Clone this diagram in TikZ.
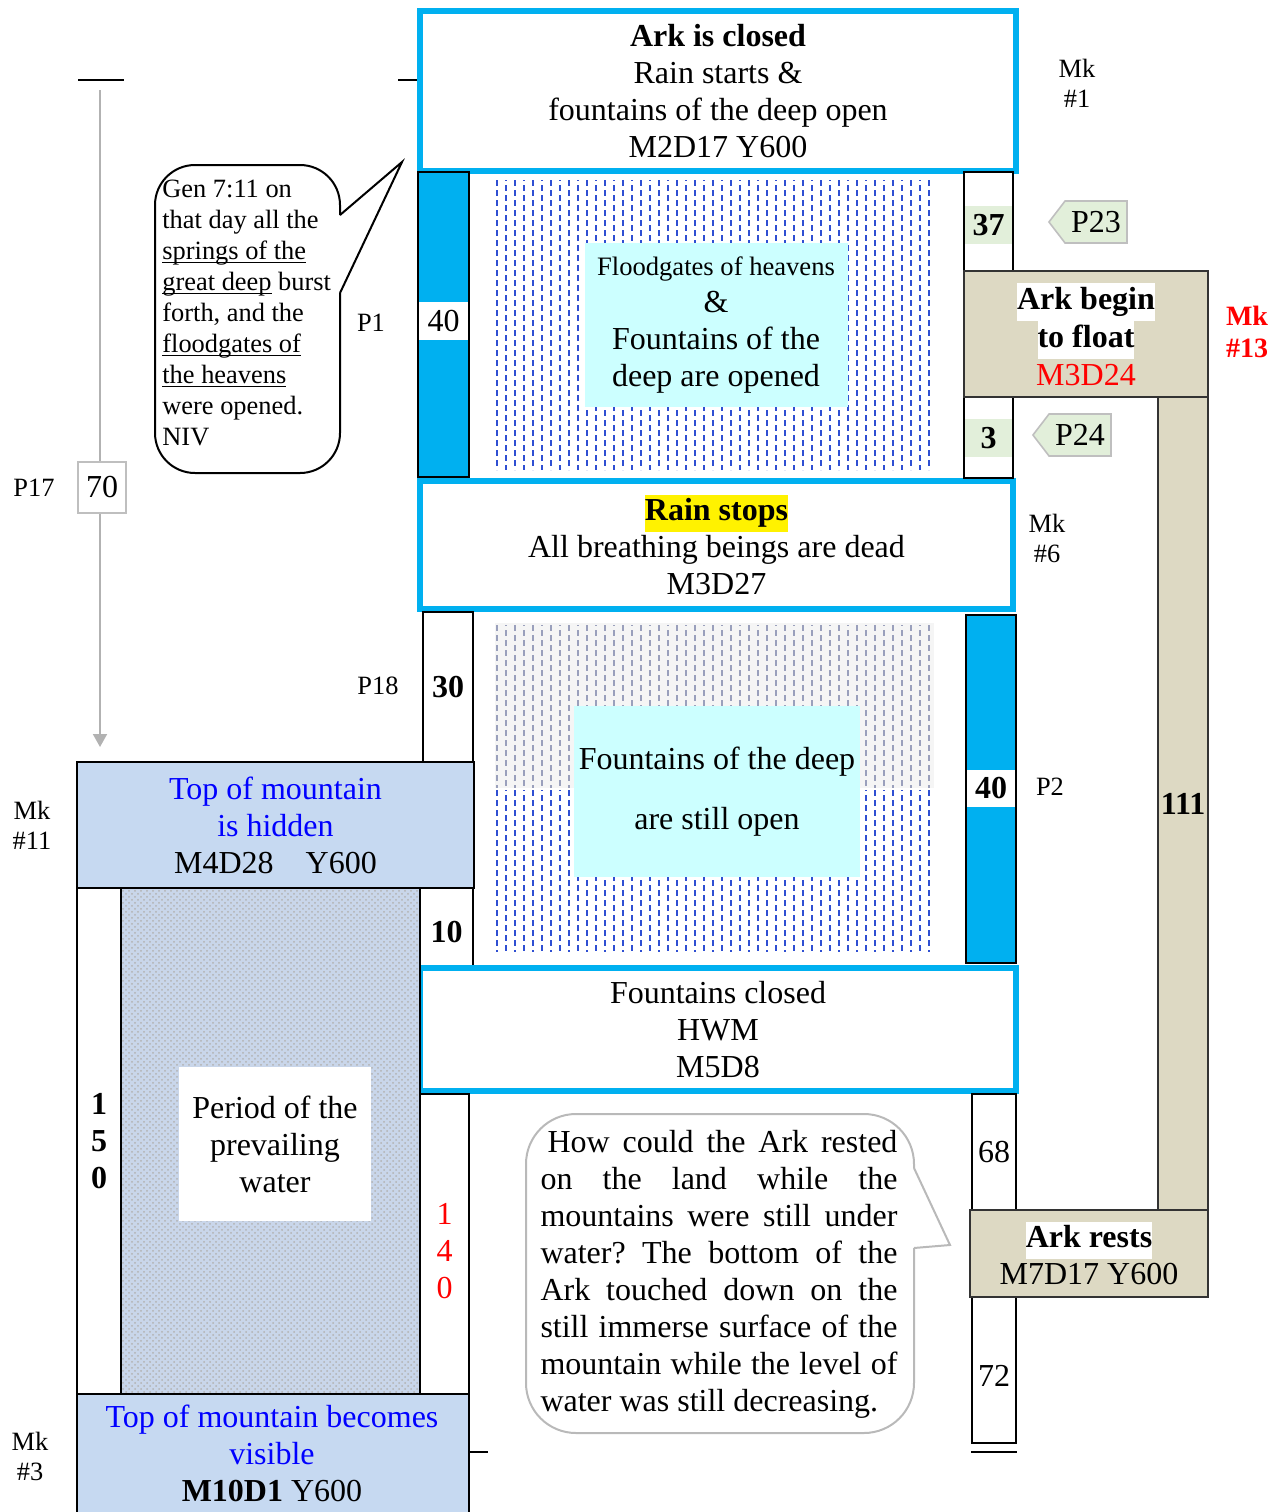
\documentclass[tikz,border=0pt]{standalone}
\usepackage{fontspec}
\setmainfont{Liberation Serif}
\usetikzlibrary{arrows.meta,positioning,patterns,shapes.symbols}
\definecolor{arkcyan}{HTML}{00B0F0}
\definecolor{paleaqua}{HTML}{CCFFFF}
\definecolor{tanbg}{HTML}{DDD9C3}
\definecolor{mtblue}{HTML}{C6D9F1}
\definecolor{tagbg}{HTML}{E2EFDA}
\definecolor{rainblue}{HTML}{2F4FD2}
\definecolor{hazeblue}{HTML}{9AA0BC}
\definecolor{dotfill}{HTML}{C9D6EA}
\newcommand\hilite[2]{{\setlength\fboxsep{0pt}\colorbox{#1}{\strut#2}}}
\newcommand\jline[2]{\makebox[#1][s]{#2}}
\newcommand\undl[1]{\setbox0\hbox{#1}\rlap{\rule[-1.8pt]{\wd0}{0.6pt}}\box0\relax}
\frenchspacing

\begin{document}
\begin{tikzpicture}[x=0.5pt, y=-0.5pt, font=\fontsize{16}{18.5}\selectfont,
  eventbox/.style={draw=arkcyan, line width=3pt, fill=white, inner sep=0pt, align=center},
  colbox/.style={draw=black, line width=1pt, fill=white, inner sep=0pt, align=center},
  cyanbar/.style={draw=black, line width=1pt, fill=arkcyan, inner sep=0pt},
  tanbox/.style={draw=black!80, line width=1pt, fill=tanbg, inner sep=0pt, align=center},
  mtbox/.style={draw=black, line width=1pt, fill=mtblue, inner sep=0pt, align=center},
  numbg/.style={fill=#1, inner sep=0pt, minimum width=23.5pt, minimum height=19pt},
  txt/.style={inner sep=0pt, align=center},
  note/.style={inner sep=0pt, align=center, font=\fontsize{13.2}{15}\selectfont},
  tag/.style={signal, signal to=west, signal pointer angle=105, draw=gray!50, line width=0.8pt,
    fill=tagbg, minimum height=21pt, minimum width=39pt, inner xsep=3pt, inner ysep=0pt},
  rain/.style={draw=rainblue, line width=0.7pt, dash pattern=on 3pt off 2pt}]

\useasboundingbox (0,0) rectangle (1280,1512);

% rain under the open floodgates
\foreach \i in {0,...,48}{
  \pgfmathsetmacro\rx{497+9*\i}
  \pgfmathsetmacro\ph{mod(\i,2)*2.5}
  \draw[rain, dash phase=\ph pt] (\rx,180) -- (\rx,470);
}
% deep still open
\fill[black!4] (495,623) rectangle (934,788);
\foreach \i in {0,...,48}{
  \pgfmathsetmacro\rx{497+9*\i}
  \pgfmathsetmacro\ph{mod(\i,2)*2.5}
  \draw[rain, draw=hazeblue, dash phase=\ph pt] (\rx,625) -- (\rx,788);
  \draw[rain, dash phase=\ph pt] (\rx,790) -- (\rx,952);
}

% events in the middle
\node[eventbox, minimum width=298pt, minimum height=80pt] (closed) at (718,91)
  {\textbf{Ark is closed}\\Rain starts \&\\fountains of the deep open\\M2D17 Y600};
\node[cyanbar, minimum width=25.5pt, minimum height=152.5pt] (rainbar) at (443.5,324.5) {};
\node[numbg=white, minimum width=24.5pt] (forty) at (443.5,321) {40};
\node[fill=paleaqua, inner sep=0pt, align=center, minimum width=131.5pt, minimum height=82pt] (opened) at (716,325)
  {{\fontsize{13.3}{16}\selectfont Floodgates of heavens}\\\&\\Fountains of the\\deep are opened};
\node[eventbox, minimum width=296.5pt, minimum height=64pt] (stops) at (716.5,545)
  {\hilite{yellow}{\textbf{Rain stops}}\\All breathing beings are dead\\M3D27};
\node[colbox, minimum width=25pt, minimum height=75pt] (thirty) at (448,687) {\textbf{30}};
\node[fill=paleaqua, inner sep=0pt, align=center, minimum width=143pt, minimum height=85.5pt,
  font=\fontsize{16}{30}\selectfont] (stillopen) at (717,791.5) {Fountains of the deep\\are still open};
\node[cyanbar, minimum width=25pt, minimum height=174pt] (deepbar) at (991,789) {};
\node[numbg=white, minimum width=24pt, minimum height=18.5pt] (fortyb) at (991,788) {\textbf{40}};
\node[colbox, minimum width=26.5pt, minimum height=39pt] (ten) at (446.5,927) {};
\node[txt] (tentxt) at (446.5,932) {\textbf{10}};
\node[eventbox, minimum width=298pt, minimum height=61.5pt] (fclosed) at (718,1029.5)
  {Fountains closed\\HWM\\M5D8};

% mountain on the left
\draw[line width=1pt] (78,80) -- (124,80);
\draw[line width=1pt] (398,80) -- (closed.west |- 0,80);
\coordinate (flowtop) at (100,90);
\node[mtbox, minimum width=198.5pt, minimum height=63pt] (hidden) at (275.5,825)
  {\textcolor{blue}{Top of mountain}\\\textcolor{blue}{is hidden}\\M4D28\quad Y600};
\draw[gray!60, line width=1pt, -{Triangle[width=7pt,length=6.5pt]}, shorten >=7pt] (flowtop) -- (flowtop |- hidden.north);
\node[draw=gray!50, line width=1pt, fill=white, inner sep=0pt, minimum width=24pt, minimum height=25.5pt] (seventy) at (102,487.5) {70};
\node[colbox, minimum width=22pt, minimum height=253pt] (onefifty) at (99,1141) {\textbf{1}\\\textbf{5}\\\textbf{0}};
\node[draw=black, line width=1pt, preaction={fill=dotfill}, pattern=crosshatch dots, pattern color=gray!60,
  minimum width=149.5pt, minimum height=253pt] (prevail) at (270.5,1141) {};
\node[fill=white, inner sep=0pt, align=center, minimum width=96pt, minimum height=77pt] (prevtxt) at (275,1144)
  {Period of the\\prevailing\\water};
\node[colbox, minimum width=24.5pt, minimum height=150pt] (onefourty) at (444.5,1244) {};
\node[txt, text=red] (onefourtytxt) at (444.5,1251) {1\\4\\0};
\node[mtbox, minimum width=196pt, minimum height=68pt] (visible) at (273,1462) {};
\node[txt] (visibletxt) at (272,1453)
  {\textcolor{blue}{Top of mountain becomes}\\\textcolor{blue}{visible}\\\textbf{M10D1} Y600};
\draw[line width=1pt] (visible.east |- 0,1452) -- (488,1452);

% the Ark on the right
\node[colbox, minimum width=24.5pt, minimum height=49.5pt] (col37) at (988.5,221.5) {};
\node[numbg=tagbg] (n37) at (988.5,225) {\textbf{37}};
\node[colbox, minimum width=24.5pt, minimum height=40.5pt] (col3) at (988.5,437.5) {};
\node[numbg=tagbg] (n3) at (988.5,438) {\textbf{3}};
\node[tanbox, minimum width=25pt, minimum height=406.5pt] (afloat) at (1183,803.5) {\textbf{111}};
\node[tanbox, minimum width=122pt, minimum height=63pt, font=\fontsize{16}{19}\selectfont] (float) at (1086,334)
  {\hilite{white}{\textbf{Ark begin}}\\\hilite{white}{\textbf{to float}}\\\textcolor{red}{M3D24}};
\node[tag] (p23) at (1096,222) {P23};
\node[tag] (p24) at (1080,435) {P24};
\node[colbox, minimum width=22pt, minimum height=58pt] (col68) at (994,1152) {68};
\node[colbox, minimum width=22pt, minimum height=73pt] (col72) at (994,1370) {};
\node[txt] (n72) at (994,1376) {72};
\node[tanbox, minimum width=119pt, minimum height=43.5pt] (rests) at (1089,1253.5)
  {\hilite{white}{\textbf{Ark rests}}\\M7D17 Y600};
\draw[line width=1pt] (col72.west |- 0,1452) -- (col72.east |- 0,1452);

% labels
\node[note] (mk1) at (1077,83) {Mk\\\#1};
\node[note] (mk6) at (1047,538) {Mk\\\#6};
\node[note] (mk11) at (32,825) {Mk\\\#11};
\node[note] (mk3) at (30,1456) {Mk\\\#3};
\node[note, font=\fontsize{14}{16}\selectfont\bfseries, text=red] (mk13) at (1247,332) {Mk\\\#13};
\node[note] (p1) at (371,323) {P1};
\node[note] (p17) at (34,488) {P17};
\node[note] (p18) at (378,686) {P18};
\node[note] (p2) at (1050,787) {P2};

% speech bubbles
\draw[line width=1pt, rounded corners=20pt] (340,293) -- (340,473) -- (155,473) -- (155,165) -- (340,165) -- (340,215);
\draw[line width=1pt, line join=miter] (340,215) -- (402,162) -- (340,293);
\node[note, align=left, anchor=west, font=\fontsize{13.2}{15.45}\selectfont] (gen) at (162,313)
  {Gen 7:11 on\\that day all the\\\undl{springs of the}\\\undl{great deep} burst\\forth, and the\\\undl{floodgates of}\\\undl{the heavens}\\were opened.\\NIV};
\draw[gray!55, line width=1pt, rounded corners=25pt] (914,1248) -- (914,1433) -- (526,1433) -- (526,1114) -- (914,1114) -- (914,1168);
\draw[gray!55, line width=1pt] (914,1168) -- (950,1245) -- (914,1248);
\node[inner sep=0pt, align=left] (query) at (719,1274)
  {\hspace*{3.5pt}\jline{175pt}{How could the Ark rested}\\
   \jline{178.5pt}{on the land while the}\\
   \jline{178.5pt}{mountains were still under}\\
   \jline{178.5pt}{water? The bottom of the}\\
   \jline{178.5pt}{Ark touched down on the}\\
   \jline{178.5pt}{still immerse surface of the}\\
   \jline{178.5pt}{mountain while the level of}\\
   water was still decreasing.};
\end{tikzpicture}
\end{document}
